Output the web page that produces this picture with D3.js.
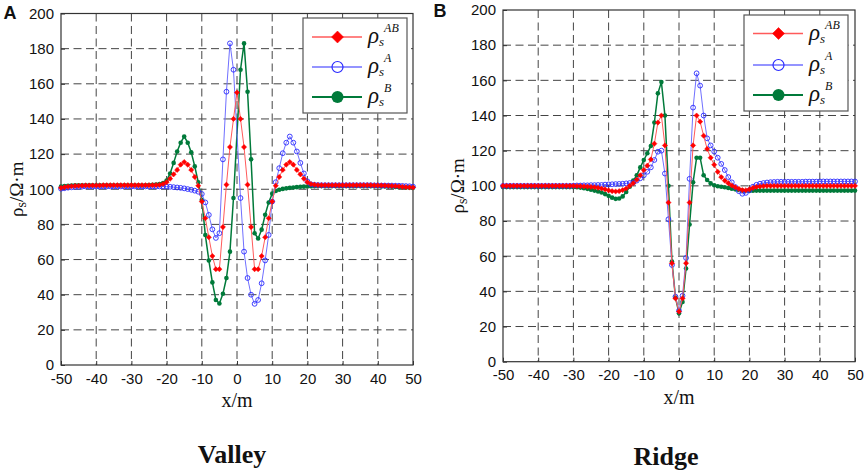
<!DOCTYPE html>
<html><head><meta charset="utf-8">
<script src="https://cdn.jsdelivr.net/npm/d3@7"></script>
<style>body{margin:0;background:#fff}svg{display:block}</style>
</head><body>
<script>
// x positions (m)
const xs = d3.range(-50, 51, 1);
const xTicks = [-50,-40,-30,-20,-10,0,10,20,30,40,50];
const yTicks = [0,20,40,60,80,100,120,140,160,180,200];

// ---------- Valley ----------
const valleyAB = [
 100.8,101.2,101.5,101.7,101.9,102,102.1,102.2,102.2,102.2,
 102.2,102.2,102.3,102.3,102.3,102.3,102.3,102.3,102.3,102.3,
 102.3,102.3,102.3,102.3,102.3,102.3,102.3,102.4,102.5,103,
 104,106,108.5,111,114,115.5,114,111,107,102,
 93,83.5,72.7,62,54.5,54.5,78.5,102.6,124,140,
 155,
 140,124,102.6,78.5,54.5,54.5,62,72.7,83.5,93,
 102,107,111,114,115.5,114,111,108.5,106,104,
 103,102.6,102.4,102.3,102.3,102.3,102.3,102.3,102.3,102.3,
 102.3,102.3,102.3,102.3,102.3,102.3,102.3,102.3,102.2,102.2,
 102.2,102.1,102,101.9,101.8,101.6,101.4,101.2,101.1,101
];
const valleyA = [
 100.3,100.6,100.9,101.1,101.3,101.4,101.5,101.6,101.6,101.6,
 101.6,101.6,101.6,101.6,101.6,101.6,101.6,101.6,101.6,101.6,
 101.6,101.6,101.6,101.6,101.6,101.6,101.6,101.6,101.6,101.6,
 101.5,101.4,101.2,101,100.8,100.5,100.1,99.7,99.2,98.6,
 97.3,92.5,85.4,77.2,72.3,75,117,155.5,183,168,
 null,
 95,64.5,49.5,40,34.8,37,46.5,59.5,74,93,
 104,112,120.5,126.5,130,126.5,121.5,115,109,104.5,
 102.8,102.5,102.4,102.3,102.3,102.3,102.3,102.3,102.3,102.3,
 102.3,102.3,102.3,102.3,102.3,102.3,102.3,102.3,102.2,102.2,
 102.1,102.1,102.1,102.1,102,102,101.9,101.8,101.7,101.5
];
const valleyB = [
 101.5,101.8,102,102.1,102.2,102.3,102.3,102.3,102.3,102.3,
 102.3,102.3,102.3,102.3,102.3,102.3,102.3,102.3,102.3,102.3,
 102.3,102.3,102.3,102.3,102.3,102.4,102.5,102.7,103,103.5,
 105,109,115,121.5,126.5,130,126.5,121,113,104,
 94,74,59.5,47,37,35,40.5,49.5,64.5,95,
 null,
 168,183,155.5,117,75,72,77,85.5,92.5,97.5,
 99,99.7,100.2,100.5,100.8,101,101.2,101.4,101.5,101.6,
 101.7,101.8,101.8,101.8,101.8,101.8,101.8,101.8,101.8,101.8,
 101.8,101.8,101.8,101.8,101.8,101.8,101.8,101.7,101.7,101.7,
 101.6,101.6,101.5,101.4,101.3,101.2,101.1,101,100.9,100.8
];

// ---------- Ridge ----------
const ridgeAB = [
 100,100,100,100,100,100,100,100,100,100,
 100,100,100,100,100,100,100,100,100,100,
 100,99.9,99.8,99.7,99.6,99.4,99.2,98.9,98.5,98,
 97.4,97,96.8,97,97.6,98.5,100,101.5,103.5,106,
 109,111.5,115,124,136,140,123,90.5,56,36,
 28.5,
 36,56,90.5,123,140,136.5,128.5,121,116,112,
 108,105,103,101.5,100.2,99.2,98.3,97.6,97.5,98,
 98.8,99.4,99.7,99.9,100,100,100,100,100,100,
 100,100,100,100,100,100,100,100,100,100,
 100,100,100,100,100,100,100,100,100,100
];
const ridgeA = [
 100,100,100,100,100,100,100,100,100,100,
 100,100,100,100,100,100,100,100,100,100,
 100.1,100.2,100.2,100.3,100.3,100.4,100.4,100.5,100.5,100.7,
 100.8,100.9,101,101.1,101.2,101.4,101.6,101.8,103,104.3,
 106,108,110.5,114.7,119.4,120,107,81,55,37,
 29,
 37.5,59,104,144.5,164,157,140,127,123,119.5,
 116,112.5,109,105,102,99.3,97,95.5,96,97.5,
 99.5,100.6,101.2,101.6,101.9,102.1,102.2,102.3,102.3,102.3,
 102.3,102.3,102.3,102.3,102.3,102.4,102.4,102.4,102.4,102.5,
 102.5,102.5,102.5,102.5,102.5,102.5,102.5,102.5,102.5,102.5
];
const ridgeB = [
 99.3,99.3,99.3,99.3,99.3,99.3,99.3,99.3,99.3,99.3,
 99.3,99.3,99.3,99.3,99.3,99.3,99.3,99.3,99.3,99.3,
 99.3,99.2,99,98.7,98.3,97.8,97.3,96.8,96.2,95.3,
 94.3,93.3,92.6,92.8,94,96.5,99.5,103,106,110.5,
 114.7,118.5,122.7,136,152.6,159,140,100,57,36.5,
 27.5,
 34,53,78,102,116,116,106,103.3,101.4,100.3,
 99.8,99.5,99.2,98.8,98.4,98,97.6,97.3,97.1,97.1,
 97.2,97.3,97.3,97.3,97.3,97.3,97.3,97.3,97.3,97.3,
 97.3,97.3,97.3,97.3,97.3,97.3,97.3,97.3,97.3,97.3,
 97.3,97.3,97.3,97.3,97.3,97.3,97.3,97.3,97.3,97.3
];

const panelLabels = ["A","B"];
const titles = ["Valley","Ridge"];
const legendSup = ["AB","A","B"];

const W = 865, H = 473;
const svg = d3.select("body").append("svg").attr("width", W).attr("height", H);

const RED = "#ff0000", RED_L = "#ff5a5a";
const BLUE = "#2a2aff", BLUE_L = "#7070ff";
const GREEN = "#007a3a";

const panels = [
  {x0:61, x1:413, y0:13.5, y1:365, lab:[10,19], ylab:17, title:232, tY:463,
   series:[valleyB, valleyA, valleyAB], leg:{x:303,y:18,w:104,h:95,rows:[37,67,97]}},
  {x0:503, x1:855, y0:10, y1:361.7, lab:[440,17], ylab:458, title:666, tY:465,
   series:[ridgeB, ridgeA, ridgeAB], leg:{x:744,y:15,w:104,h:96,rows:[33.5,65,95]}}
];

function drawMarker(g, type, cx, cy, big) {
  if (type === "AB") {
    const s = big ? 6 : 2.6;
    g.append("path").attr("d", `M${cx},${cy-s}L${cx+s},${cy}L${cx},${cy+s}L${cx-s},${cy}Z`)
      .attr("fill", RED).attr("stroke", RED).attr("stroke-width", 0.5);
  } else if (type === "A") {
    g.append("circle").attr("cx", cx).attr("cy", cy).attr("r", big ? 5.5 : 2.4)
      .attr("fill", "none").attr("stroke", BLUE).attr("stroke-width", big ? 1.2 : 0.9);
  } else {
    g.append("circle").attr("cx", cx).attr("cy", cy).attr("r", big ? 6 : 2.3)
      .attr("fill", GREEN);
  }
}

panels.forEach((p, pi) => {
  const x = d3.scaleLinear().domain([-50, 50]).range([p.x0, p.x1]);
  const y = d3.scaleLinear().domain([0, 200]).range([p.y1, p.y0]);
  const g = svg.append("g");

  // grid
  g.append("g").selectAll("line").data(xTicks.slice(1, -1)).join("line")
    .attr("x1", d => x(d)).attr("x2", d => x(d)).attr("y1", p.y0).attr("y2", p.y1)
    .attr("stroke", "#444").attr("stroke-width", 1).attr("stroke-dasharray", "8,4.5");
  g.append("g").selectAll("line").data(yTicks.slice(1, -1)).join("line")
    .attr("y1", d => y(d)).attr("y2", d => y(d)).attr("x1", p.x0).attr("x2", p.x1)
    .attr("stroke", "#444").attr("stroke-width", 1).attr("stroke-dasharray", "8,4.5");

  // axes
  const ax = g.append("g").attr("transform", `translate(0,${p.y1})`)
    .call(d3.axisBottom(x).tickValues(xTicks).tickSize(-4).tickPadding(8).tickFormat(d => String(d)));
  const ay = g.append("g").attr("transform", `translate(${p.x0},0)`)
    .call(d3.axisLeft(y).tickValues(yTicks).tickSize(-4).tickPadding(7));
  [ax, ay].forEach(a => {
    a.select(".domain").remove();
    a.selectAll("line").attr("stroke", "#333");
    a.selectAll("text").attr("font-family", "Liberation Sans, Arial, sans-serif")
      .attr("font-size", 15).attr("fill", "#111");
  });
  // frame
  g.append("rect").attr("x", p.x0).attr("y", p.y0).attr("width", p.x1 - p.x0).attr("height", p.y1 - p.y0)
    .attr("fill", "none").attr("stroke", "#333").attr("stroke-width", 1.2);

  // series
  const types = ["B", "A", "AB"];
  const lineCol = {AB: RED_L, A: BLUE_L, B: GREEN};
  const lineW = {AB: 1, A: 1, B: 1.5};
  p.series.forEach((vals, si) => {
    const t = types[si];
    const pts = xs.map((xv, i) => ({x: xv, v: vals[i]})).filter(d => d.v !== null);
    const line = d3.line().x(d => x(d.x)).y(d => y(d.v));
    g.append("path").datum(pts).attr("d", line).attr("fill", "none")
      .attr("stroke", lineCol[t]).attr("stroke-width", lineW[t]);
    const mg = g.append("g");
    pts.forEach(d => drawMarker(mg, t, x(d.x), y(d.v), false));
  });

  // legend
  const L = p.leg;
  const lg = g.append("g");
  lg.append("rect").attr("x", L.x).attr("y", L.y).attr("width", L.w).attr("height", L.h)
    .attr("fill", "#fff").attr("stroke", "#555").attr("stroke-width", 1.2);
  ["AB", "A", "B"].forEach((t, i) => {
    const ry = L.rows[i];
    lg.append("line").attr("x1", L.x + 9).attr("x2", L.x + 59).attr("y1", ry).attr("y2", ry)
      .attr("stroke", lineCol[t]).attr("stroke-width", t === "B" ? 1.8 : 1.3);
    drawMarker(lg, t, L.x + 34.5, ry, true);
    const tx = lg.append("text").attr("x", L.x + 65).attr("y", ry + 6)
      .attr("font-family", "Liberation Serif, Times New Roman, serif").attr("font-style", "italic").attr("fill", "#111");
    tx.append("tspan").attr("font-size", 23).text("ρ");
    tx.append("tspan").attr("font-size", 13).attr("dy", 3).text("s");
    tx.append("tspan").attr("font-size", 12).attr("dy", -14).text(legendSup[i]);
  });

  // axis labels
  svg.append("text").attr("x", (p.x0 + p.x1) / 2).attr("y", p.y1 + 42).attr("text-anchor", "middle")
    .attr("font-family", "Liberation Serif, Times New Roman, serif").attr("font-size", 20).attr("fill", "#111")
    .text("x/m");
  const yl = svg.append("text").attr("transform", `translate(${p.ylab + 6},${(p.y0 + p.y1) / 2}) rotate(-90)`)
    .attr("text-anchor", "middle").attr("font-family", "Liberation Serif, Times New Roman, serif")
    .attr("font-size", 19).attr("fill", "#111");
  yl.append("tspan").text("ρ");
  yl.append("tspan").attr("font-size", 14).attr("dy", 3).text("s");
  yl.append("tspan").attr("dy", -3).text("/Ω·m");

  // panel label
  svg.append("text").attr("x", p.lab[0]).attr("y", p.lab[1]).attr("text-anchor", "middle")
    .attr("font-family", "Liberation Sans, Arial, sans-serif").attr("font-weight", "bold")
    .attr("font-size", 18).attr("fill", "#111").text(panelLabels[pi]);

  // title
  svg.append("text").attr("x", p.title).attr("y", p.tY).attr("text-anchor", "middle")
    .attr("font-family", "Liberation Serif, Times New Roman, serif").attr("font-weight", "bold")
    .attr("font-size", 26).attr("fill", "#111").text(titles[pi]);
});
</script>
</body></html>
